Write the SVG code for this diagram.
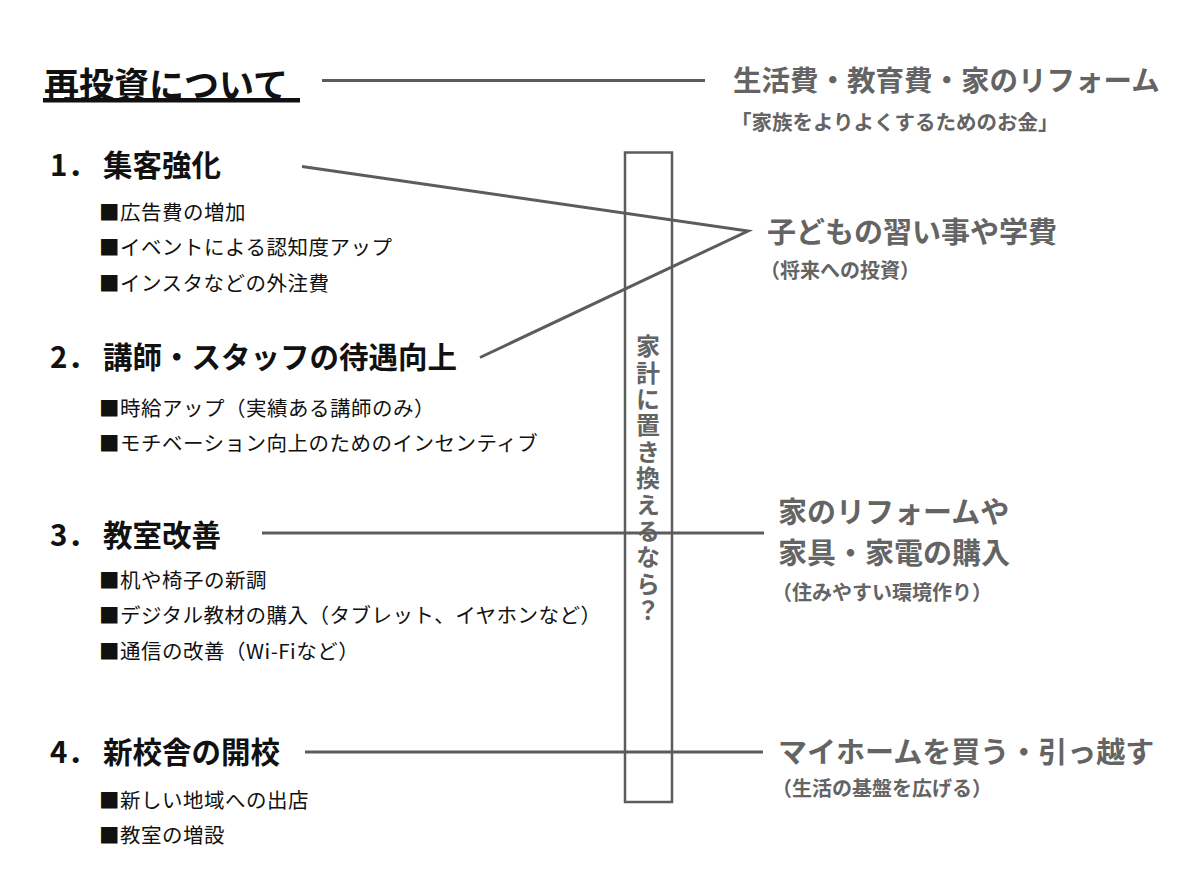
<svg xmlns="http://www.w3.org/2000/svg" width="1200" height="895" viewBox="0 0 1200 895">
<style>
text{font-family:"Noto Sans CJK JP","Noto Sans",sans-serif;}
.title{font-size:35px;font-weight:700;fill:#111;}
.head{font-size:29.5px;font-weight:700;fill:#111;}
.item{font-size:20.5px;font-weight:400;fill:#111;letter-spacing:0.5px;}
.rhead{font-size:29px;font-weight:700;fill:#646464;}
.rsub{font-size:20px;font-weight:700;fill:#646464;}
.vert{font-size:24px;font-weight:700;fill:#646464;}
.ln{stroke:#5c5c5c;stroke-width:3;fill:none;}
</style>
<rect width="1200" height="895" fill="#fff"/>
<g id="title">
<text class="title" x="44" y="98">再投資について</text>
<rect x="43" y="98" width="257" height="4.5" fill="#111"/>
</g>
<g id="household-box">
<rect x="625" y="152.5" width="47" height="649.5" fill="none" stroke="#5c5c5c" stroke-width="2.5"/>
<text class="vert" x="648" y="334" style="writing-mode:vertical-rl;letter-spacing:2.4px">家計に置き換えるなら？</text>
</g>
<g id="connectors">
<line class="ln" x1="322" y1="80.5" x2="705" y2="80.5"/>
<polyline class="ln" points="302,166.5 748,231 480,357.5"/>
<line class="ln" x1="262" y1="533" x2="764" y2="533"/>
<line class="ln" x1="305" y1="752" x2="763" y2="752"/>
</g>
<g id="item1">
<text class="head" x="50" y="176">1．<tspan x="103">集客強化</tspan></text>
<text class="item" x="99" y="220">■広告費の増加</text>
<text class="item" x="99" y="255">■イベントによる認知度アップ</text>
<text class="item" x="99" y="291">■インスタなどの外注費</text>
</g>
<g id="item2">
<text class="head" x="50" y="368">2．<tspan x="103">講師・スタッフの待遇向上</tspan></text>
<text class="item" x="99" y="416">■時給アップ（実績ある講師のみ）</text>
<text class="item" x="99" y="451">■モチベーション向上のためのインセンティブ</text>
</g>
<g id="item3">
<text class="head" x="50" y="546">3．<tspan x="103">教室改善</tspan></text>
<text class="item" x="99" y="588">■机や椅子の新調</text>
<text class="item" x="99" y="623">■デジタル教材の購入（タブレット、イヤホンなど）</text>
<text class="item" x="99" y="659">■通信の改善（Wi-Fiなど）</text>
</g>
<g id="item4">
<text class="head" x="50" y="763">4．<tspan x="103">新校舎の開校</tspan></text>
<text class="item" x="99" y="808">■新しい地域への出店</text>
<text class="item" x="99" y="843">■教室の増設</text>
</g>
<g id="family-money">
<text class="rhead" x="733" y="91" style="font-size:28.5px">生活費・教育費・家のリフォーム</text>
<text class="rsub" x="731" y="130" style="font-size:20.5px">「家族をよりよくするためのお金」</text>
</g>
<g id="children">
<text class="rhead" x="767" y="243">子どもの習い事や学費</text>
<text class="rsub" x="760" y="278">（将来への投資）</text>
</g>
<g id="home-reform">
<text class="rhead" x="778" y="523">家のリフォームや</text>
<text class="rhead" x="778" y="564">家具・家電の購入</text>
<text class="rsub" x="772" y="600">（住みやすい環境作り）</text>
</g>
<g id="my-home">
<text class="rhead" x="778" y="763">マイホームを買う・引っ越す</text>
<text class="rsub" x="772" y="796">（生活の基盤を広げる）</text>
</g>
</svg>
